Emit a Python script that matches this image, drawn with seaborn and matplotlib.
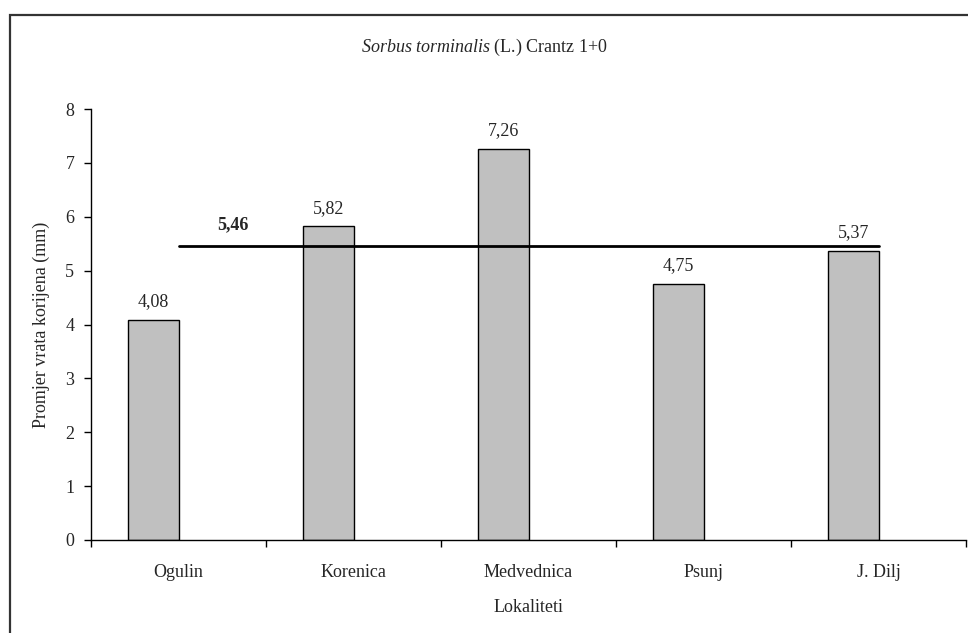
import matplotlib
matplotlib.use("Agg")
import matplotlib.pyplot as plt
import seaborn as sns
import pandas as pd
from matplotlib.patches import Rectangle

# Data
lokaliteti = ["Ogulin", "Korenica", "Medvednica", "Psunj", "J. Dilj"]
promjer = [4.08, 5.82, 7.26, 4.75, 5.37]
prosjek = 5.46
y_ticks = [0, 1, 2, 3, 4, 5, 6, 7, 8]

def fmt(v):
    return f"{v:.2f}".replace(".", ",")

sns.set_theme(style="white")
plt.rcParams["font.family"] = ["Liberation Serif", "DejaVu Serif"]
plt.rcParams["mathtext.fontset"] = "custom"
plt.rcParams["mathtext.it"] = "Liberation Serif:italic"
plt.rcParams["mathtext.rm"] = "Liberation Serif"

FS = 13

df = pd.DataFrame({"Lokalitet": lokaliteti, "Promjer": promjer, "Serija": "promjer"})

fig = plt.figure(figsize=(9.68, 6.33), dpi=100)
ax = fig.add_axes([91 / 968, 1 - 540 / 633, (966 - 91) / 968, (540 - 109) / 633])

sns.barplot(data=df, x="Lokalitet", y="Promjer", hue="Serija",
            hue_order=["promjer", "prazno"], palette=["#C0C0C0", "#C0C0C0"],
            width=0.58, dodge=True, edgecolor="black", linewidth=1.0,
            legend=False, ax=ax, errorbar=None, zorder=2)

# value labels above bars
for bar, v in zip([p for p in ax.patches if p.get_height() > 0], promjer):
    cx = bar.get_x() + bar.get_width() / 2
    ax.annotate(fmt(v), (cx, v), xytext=(0, 7), textcoords="offset points",
                ha="center", va="bottom", fontsize=FS)

# mean line across locations
sns.lineplot(x=[0, len(lokaliteti) - 1], y=[prosjek, prosjek], color="black",
             linewidth=2.0, ax=ax, zorder=3)
ax.text(0.31, 5.85, fmt(prosjek), ha="center", va="center",
        fontsize=FS, fontweight="bold")

ax.set_xlim(-0.5, len(lokaliteti) - 0.5)
ax.set_ylim(0, 8)
ax.set_yticks(y_ticks)
ax.set_yticklabels([str(t) for t in y_ticks], fontsize=FS)
ax.set_xticks(range(len(lokaliteti)))
ax.set_xticklabels(lokaliteti, fontsize=FS)
ax.set_xticks([i - 0.5 for i in range(len(lokaliteti) + 1)], minor=True)
ax.tick_params(axis="x", which="major", length=0, pad=17)
ax.tick_params(axis="x", which="minor", length=5, width=1, color="black", direction="out", bottom=True)
ax.tick_params(axis="y", which="major", length=5, width=1, color="black", direction="out", left=True, pad=7)

for s in ["top", "right"]:
    ax.spines[s].set_visible(False)
for s in ["left", "bottom"]:
    ax.spines[s].set_color("black")
    ax.spines[s].set_linewidth(1.0)

ax.set_xlabel("Lokaliteti", fontsize=FS, labelpad=13)
ax.set_ylabel("Promjer vrata korijena (mm)", fontsize=FS, labelpad=11)

fig.text(0.5, 1 - 47 / 633, r"$\mathit{Sorbus\ torminalis}$ (L.) Crantz 1+0",
         ha="center", va="center", fontsize=FS)

# outer chart frame
fig.patches.append(Rectangle((9.5 / 968, -0.2), 1.3, 1.2 - 15 / 633,
                             transform=fig.transFigure, fill=False,
                             edgecolor="#333333", linewidth=1.6))

fig.savefig("out.png", dpi=100)
